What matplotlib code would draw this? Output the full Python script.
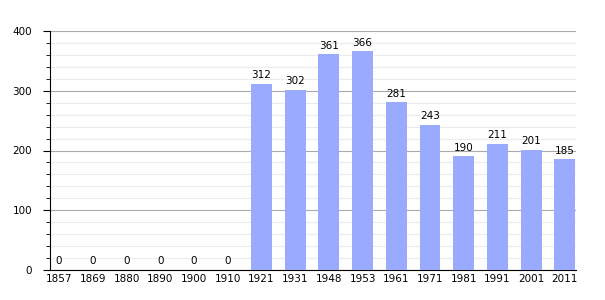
import numpy as np
import matplotlib.pyplot as plt
from matplotlib.ticker import MultipleLocator

years = ["1857", "1869", "1880", "1890", "1900", "1910", "1921", "1931",
         "1948", "1953", "1961", "1971", "1981", "1991", "2001", "2011"]
population = [0, 0, 0, 0, 0, 0, 312, 302, 361, 366, 281, 243, 190, 211, 201, 185]

fig = plt.figure(figsize=(6.05, 3), dpi=100)
ax = fig.add_axes([50 / 605, 30 / 300, 526 / 605, 239 / 300])

x = np.arange(len(years))
ax.bar(x, population, width=0.62, color="#99aaff", zorder=3)
for xi, v in zip(x, population):
    ax.text(xi, v + 6, str(v), ha="center", va="bottom", fontsize=7.5, zorder=4)

ax.set_xlim(-0.27, len(years) - 0.67)
ax.set_ylim(0, 400)
ax.set_xticks(x)
ax.set_xticklabels(years, fontsize=7.5)
ax.tick_params(axis="x", length=0, pad=3)
ax.yaxis.set_major_locator(MultipleLocator(100))
ax.yaxis.set_minor_locator(MultipleLocator(20))
ax.tick_params(axis="y", which="major", length=5, labelsize=7.5, pad=8)
ax.tick_params(axis="y", which="minor", length=3)
ax.grid(axis="y", which="major", color="#aaaaaa", lw=0.8, zorder=0)
ax.grid(axis="y", which="minor", color="#ececec", lw=0.8, zorder=0)
for s in ["top", "right"]:
    ax.spines[s].set_visible(False)

fig.savefig("out.png", dpi=100)
